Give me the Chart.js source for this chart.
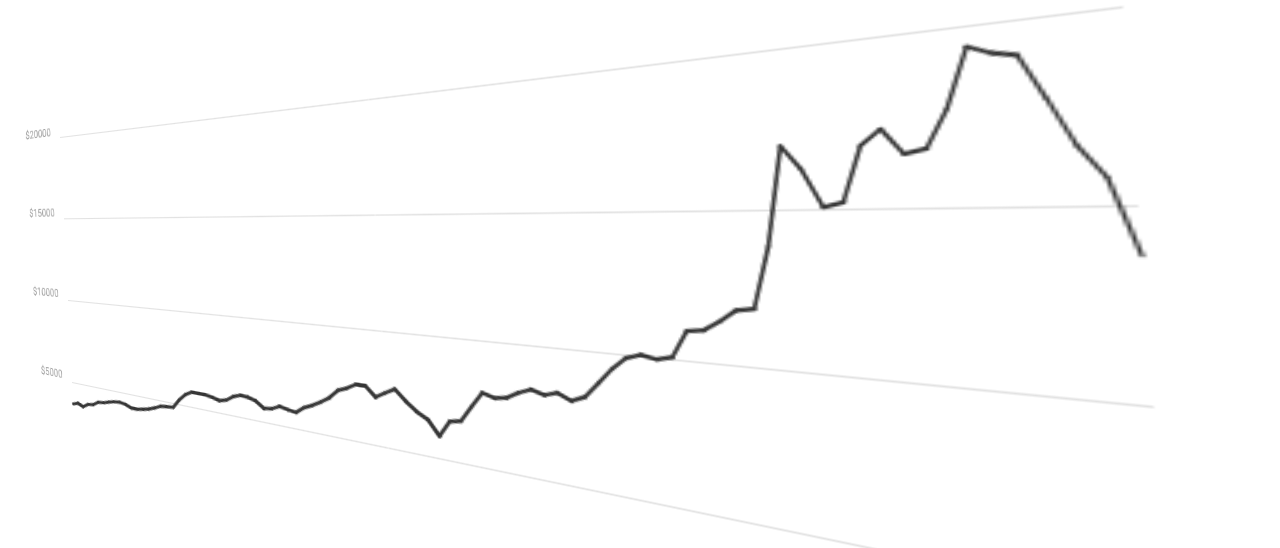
<!DOCTYPE html>
<html>
<head>
<meta charset="utf-8">
<script src="https://cdn.jsdelivr.net/npm/chart.js@4.4.0/dist/chart.umd.min.js"></script>
<style>
    html, body { margin: 0; padding: 0; background: #fff; overflow: hidden; }
    body { width: 1280px; height: 548px; position: relative; }
    #chart { position: absolute; left: 0; top: 0; transform-origin: 0 0; filter: blur(0.3px); }
</style>
</head>
<body>
<canvas id="chart" width="706" height="303"></canvas>
<script>
// one value per day
const days = [
    0, 1, 2, 3, 4, 5, 6, 7, 8, 9, 10, 11, 12, 13, 14, 15, 16, 17, 18, 19,
    20, 21, 22, 23, 24, 25, 26, 27, 28, 29, 30, 31, 32, 33, 34, 35, 36, 37, 38, 39,
    40, 41, 42, 43, 44, 45, 46, 47, 48, 49, 50, 51, 52, 53, 54, 55, 56, 57, 58, 59,
    60, 61, 62, 63, 64, 65, 66, 67, 68, 69, 70, 71, 72, 73, 74, 75, 76, 77, 78, 79,
    80, 81, 82, 83, 84, 85, 86, 87, 88, 89, 90
];
const prices = [
    3670, 3780, 3640, 3850, 3900, 4120, 4160, 4270, 4360, 4400,
    4350, 4220, 4220, 4290, 4380, 4510, 4680, 4720, 4760, 5220,
    5570, 5770, 5770, 5770, 5710, 5610, 5700, 5950, 6080, 6050,
    5940, 5650, 5700, 5890, 5810, 5750, 6050, 6220, 6450, 6710,
    7110, 7270, 7500, 7500, 7080, 7330, 7550, 7110, 6750, 6500,
    5900, 6570, 6660, 7310, 7930, 7790, 7870, 8130, 8320, 8180,
    8330, 8100, 8310, 8870, 9430, 9870, 10030, 9930, 10050, 10980,
    11040, 11370, 11770, 11840, 13840, 16970, 16220, 15050, 15190, 16840,
    17300, 16540, 16670, 17750, 19410, 19170, 19040, 17830, 16550, 15710,
    13720
];
const yTicks = [5000, 10000, 15000, 20000];

// where the plot area corners (the $20000 and $5000 lines) land on the page
const corners = { tl: [60, 137], tr: [1123, 6], br: [1169.5, 609], bl: [72, 382] };

let warp = null;

function quadMap(q) {
    const [x0, y0] = q.tl, [x1, y1] = q.tr, [x2, y2] = q.br, [x3, y3] = q.bl;
    const dx1 = x1 - x2, dx2 = x3 - x2, sx = x0 - x1 + x2 - x3;
    const dy1 = y1 - y2, dy2 = y3 - y2, sy = y0 - y1 + y2 - y3;
    const den = dx1 * dy2 - dy1 * dx2;
    const g = (sx * dy2 - sy * dx2) / den;
    const h = (dx1 * sy - dy1 * sx) / den;
    return {
        a: x1 - x0 + g * x1, b: x3 - x0 + h * x3, c: x0,
        d: y1 - y0 + g * y1, e: y3 - y0 + h * y3, f: y0,
        g: g, h: h
    };
}

function project(x, y) {
    const m = warp;
    const w = m.m31 * x + m.m32 * y + m.m33;
    return [(m.m11 * x + m.m12 * y + m.m13) / w, (m.m21 * x + m.m22 * y + m.m23) / w];
}

// keep the stroke about the same thickness on screen after the warp
function segmentWidth(ctx) {
    if (!warp) return 3;
    const p0 = ctx.p0, p1 = ctx.p1;
    const mx = (p0.x + p1.x) / 2, my = (p0.y + p1.y) / 2;
    const p = project(mx, my), px = project(mx + 1, my), py = project(mx, my + 1);
    const jx = [px[0] - p[0], px[1] - p[1]], jy = [py[0] - p[0], py[1] - p[1]];
    const det = Math.abs(jx[0] * jy[1] - jx[1] * jy[0]);
    let dx = p1.x - p0.x, dy = p1.y - p0.y;
    const len = Math.hypot(dx, dy) || 1;
    dx /= len; dy /= len;
    const sdx = jx[0] * dx + jy[0] * dy, sdy = jx[1] * dx + jy[1] * dy;
    const k = det / (Math.hypot(sdx, sdy) || 1);
    const t = (mx - warp.left) / warp.width;
    return (3 + 1.7 * t) / k;
}

const warpPlugin = {
    id: 'warp',
    afterLayout(chart) {
        const area = chart.chartArea;
        const q = quadMap(corners);
        const W = area.right - area.left, H = area.bottom - area.top;
        warp = {
            m11: q.a / W, m12: q.b / H, m13: q.c - q.a * area.left / W - q.b * area.top / H,
            m21: q.d / W, m22: q.e / H, m23: q.f - q.d * area.left / W - q.e * area.top / H,
            m31: q.g / W, m32: q.h / H, m33: 1 - q.g * area.left / W - q.h * area.top / H,
            left: area.left, width: W
        };
        const m = warp;
        chart.canvas.style.transform = 'matrix3d(' + [
            m.m11, m.m21, 0, m.m31,
            m.m12, m.m22, 0, m.m32,
            0, 0, 1, 0,
            m.m13, m.m23, 0, m.m33
        ].join(',') + ')';
    }
};

const ctx = document.getElementById('chart').getContext('2d');
new Chart(ctx, {
    type: 'line',
    data: {
        labels: days,
        datasets: [{
            data: prices,
            borderColor: '#363636',
            borderWidth: 3,
            borderCapStyle: 'round',
            borderJoinStyle: 'round',
            pointRadius: 0,
            tension: 0,
            fill: false,
            clip: false,
            segment: { borderWidth: segmentWidth }
        }]
    },
    options: {
        responsive: false,
        animation: false,
        layout: { padding: { left: 10, right: 4, top: 20, bottom: 40 } },
        plugins: {
            legend: { display: false },
            tooltip: { enabled: false }
        },
        scales: {
            x: { display: false },
            y: {
                min: 5000,
                max: 20000,
                afterBuildTicks: scale => { scale.ticks = yTicks.map(v => ({ value: v })); },
                grid: { color: '#e2e2e2', lineWidth: 1, drawTicks: false },
                border: { display: false },
                ticks: {
                    padding: 13,
                    labelOffset: -5,
                    color: '#9a9a9a',
                    font: { family: 'Roboto', size: 11.5 },
                    callback: v => '$' + v
                }
            }
        }
    },
    plugins: [warpPlugin]
});
</script>
</body>
</html>
